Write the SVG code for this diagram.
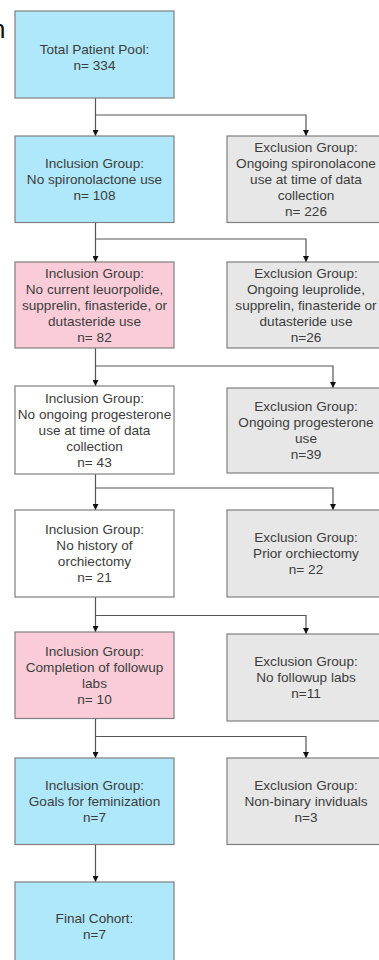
<svg xmlns="http://www.w3.org/2000/svg" width="379" height="960" viewBox="0 0 379 960">
<style>
.box{stroke:#7f7f7f;stroke-width:1.2}
.blue{fill:#aee8fa}
.pink{fill:#f9ccd7}
.gray{fill:#e7e7e7}
.white{fill:#ffffff}
text{font-family:"Liberation Sans",Arial,sans-serif;font-size:13.6px;fill:#3c3c3c;text-anchor:middle}
.conn{fill:none;stroke:#555555;stroke-width:1.2}
</style>
<defs>
<marker id="arr" markerUnits="userSpaceOnUse" markerWidth="6" markerHeight="6" refX="6" refY="3" orient="auto">
<path d="M0,0 L6,3 L0,6 z" fill="#111111"/>
</marker>
</defs>
<rect x="0" y="0" width="379" height="960" fill="#ffffff"/>
<g id="fragment"><text x="-9" y="38" style="font-size:26px;fill:#111111;text-anchor:start">n</text></g>

<g id="connectors">
<path class="conn" d="M95.5,98 V136" marker-end="url(#arr)"/>
<path class="conn" d="M95.5,115 H306 V136" marker-end="url(#arr)"/>
<path class="conn" d="M95.5,222.5 V262" marker-end="url(#arr)"/>
<path class="conn" d="M95.5,239 H306 V262" marker-end="url(#arr)"/>
<path class="conn" d="M95.5,348 V386" marker-end="url(#arr)"/>
<path class="conn" d="M95.5,366 H333 V388" marker-end="url(#arr)"/>
<path class="conn" d="M95.5,474 V510" marker-end="url(#arr)"/>
<path class="conn" d="M95.5,488 H333 V510" marker-end="url(#arr)"/>
<path class="conn" d="M95.5,597 V632" marker-end="url(#arr)"/>
<path class="conn" d="M95.5,615.5 H306 V634" marker-end="url(#arr)"/>
<path class="conn" d="M95.5,718.5 V758" marker-end="url(#arr)"/>
<path class="conn" d="M95.5,736.5 H306 V758" marker-end="url(#arr)"/>
<path class="conn" d="M95.5,844.5 V882" marker-end="url(#arr)"/>
</g>

<g id="total">
<rect class="box blue" x="15" y="11" width="159" height="87"/>
<text x="94.5" y="54">Total Patient Pool:</text>
<text x="94.5" y="70">n= 334</text>
</g>

<g id="inc1">
<rect class="box blue" x="15" y="136" width="159" height="86.5"/>
<text x="94.5" y="168">Inclusion Group:</text>
<text x="94.5" y="184">No spironolactone use</text>
<text x="94.5" y="200">n= 108</text>
</g>
<g id="exc1">
<rect class="box gray" x="227" y="136" width="160" height="86.5"/>
<text x="306" y="152">Exclusion Group:</text>
<text x="306" y="168">Ongoing spironolacone</text>
<text x="306" y="184">use at time of data</text>
<text x="306" y="200">collection</text>
<text x="306" y="216">n= 226</text>
</g>

<g id="inc2">
<rect class="box pink" x="15" y="262" width="159" height="86"/>
<text x="94.5" y="277.7">Inclusion Group:</text>
<text x="94.5" y="293.7">No current leuorpolide,</text>
<text x="94.5" y="309.7">supprelin, finasteride, or</text>
<text x="94.5" y="325.7">dutasteride use</text>
<text x="94.5" y="341.7">n= 82</text>
</g>
<g id="exc2">
<rect class="box gray" x="227" y="262" width="160" height="86"/>
<text x="306" y="277.7">Exclusion Group:</text>
<text x="306" y="293.7">Ongoing leuprolide,</text>
<text x="306" y="309.7">supprelin, finasteride or</text>
<text x="306" y="325.7">dutasteride use</text>
<text x="306" y="341.7">n=26</text>
</g>

<g id="inc3">
<rect class="box white" x="15" y="386" width="159" height="88"/>
<text x="94.5" y="402.7">Inclusion Group:</text>
<text x="94.5" y="418.7">No ongoing progesterone</text>
<text x="94.5" y="434.7">use at time of data</text>
<text x="94.5" y="450.7">collection</text>
<text x="94.5" y="466.7">n= 43</text>
</g>
<g id="exc3">
<rect class="box gray" x="227" y="388" width="160" height="85"/>
<text x="306" y="411.2">Exclusion Group:</text>
<text x="306" y="427.2">Ongoing progesterone</text>
<text x="306" y="443.2">use</text>
<text x="306" y="459.2">n=39</text>
</g>

<g id="inc4">
<rect class="box white" x="15" y="510" width="159" height="87"/>
<text x="94.5" y="534.2">Inclusion Group:</text>
<text x="94.5" y="550.2">No history of</text>
<text x="94.5" y="566.2">orchiectomy</text>
<text x="94.5" y="582.2">n= 21</text>
</g>
<g id="exc4">
<rect class="box gray" x="227" y="510" width="160" height="87"/>
<text x="306" y="542.2">Exclusion Group:</text>
<text x="306" y="558.2">Prior orchiectomy</text>
<text x="306" y="574.2">n= 22</text>
</g>

<g id="inc5">
<rect class="box pink" x="15" y="632" width="159" height="86.5"/>
<text x="94.5" y="656">Inclusion Group:</text>
<text x="94.5" y="672">Completion of followup</text>
<text x="94.5" y="688">labs</text>
<text x="94.5" y="704">n= 10</text>
</g>
<g id="exc5">
<rect class="box gray" x="227" y="634" width="160" height="87"/>
<text x="306" y="666.2">Exclusion Group:</text>
<text x="306" y="682.2">No followup labs</text>
<text x="306" y="698.2">n=11</text>
</g>

<g id="inc6">
<rect class="box blue" x="15" y="758" width="159" height="86.5"/>
<text x="94.5" y="790">Inclusion Group:</text>
<text x="94.5" y="806">Goals for feminization</text>
<text x="94.5" y="822">n=7</text>
</g>
<g id="exc6">
<rect class="box gray" x="227" y="758" width="160" height="86.5"/>
<text x="306" y="790">Exclusion Group:</text>
<text x="306" y="806">Non-binary inviduals</text>
<text x="306" y="822">n=3</text>
</g>

<g id="final">
<rect class="box blue" x="15" y="882" width="159" height="87"/>
<text x="94.5" y="923">Final Cohort:</text>
<text x="94.5" y="939">n=7</text>
</g>
</svg>
